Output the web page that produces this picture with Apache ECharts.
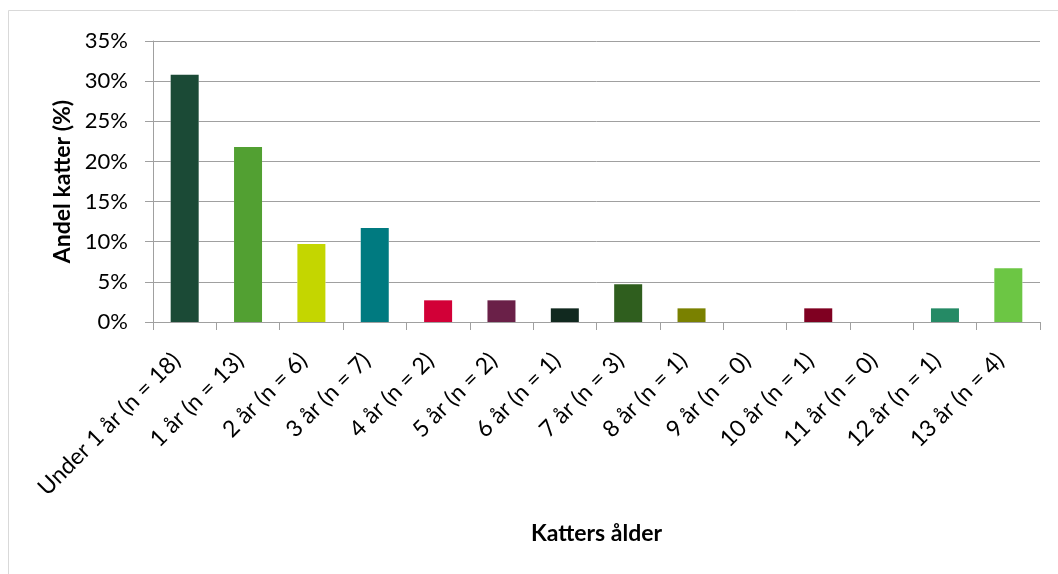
<!DOCTYPE html>
<html>
<head>
<meta charset="utf-8">
<script src="https://cdn.jsdelivr.net/npm/echarts@6/dist/echarts.min.js"></script>
<style>
html,body{margin:0;padding:0;background:#fff;}
#chart{width:1058px;height:574px;}
</style>
</head>
<body>
<div id="chart"></div>
<script>
const categories = ['Under 1 år (n = 18)','1 år (n = 13)','2 år (n = 6)','3 år (n = 7)','4 år (n = 2)','5 år (n = 2)','6 år (n = 1)','7 år (n = 3)','8 år (n = 1)','9 år (n = 0)','10 år (n = 1)','11 år (n = 0)','12 år (n = 1)','13 år (n = 4)'];
const values = [30.8, 21.8, 9.7, 11.7, 2.7, 2.7, 1.7, 4.7, 1.7, 0, 1.7, 0, 1.7, 6.7];
const colors = ['#1b4a36','#52a032','#c4d600','#007a80','#d20037','#6a2048','#11291f','#2f5e1e','#7a8100','#888888','#7f0021','#888888','#258a65','#6cc644'];
const yTicks = [0,5,10,15,20,25,30,35];

const FONT = 'Lato';
const chart = echarts.init(document.getElementById('chart'), null, {renderer:'canvas'});
chart.setOption({
  animation:false,
  backgroundColor:'#ffffff',
  graphic:[{type:'rect', shape:{x:8.5,y:10.5,width:1100,height:700}, style:{fill:'none', stroke:'#d9d9d9', lineWidth:1}, silent:true}],
  grid:{left:153, right:18, top:41, bottom:252, containLabel:false},
  xAxis:{
    type:'category', data:categories, z:3,
    name:'Katters ålder', nameLocation:'middle', nameGap:200,
    nameTextStyle:{fontFamily:FONT, fontSize:23, fontWeight:'bold', color:'#000'},
    axisLine:{show:true, lineStyle:{color:'#a0a0a0', width:1}},
    axisTick:{show:true, length:8, interval:0, lineStyle:{color:'#a0a0a0'}},
    axisLabel:{interval:0, rotate:45, margin:43, align:'right', verticalAlign:'bottom', fontFamily:FONT, fontSize:23, color:'#000'},
    splitLine:{show:false}
  },
  yAxis:{
    type:'value', min:yTicks[0], max:yTicks[yTicks.length-1], interval:5,
    name:'Andel katter (%)', nameLocation:'middle', nameGap:78, nameRotate:90,
    nameTextStyle:{fontFamily:FONT, fontSize:23, fontWeight:'bold', color:'#000'},
    axisLine:{show:true, lineStyle:{color:'#a0a0a0', width:1}},
    axisTick:{show:true, length:8, lineStyle:{color:'#a0a0a0'}},
    axisLabel:{formatter:'{value}%', margin:25, fontFamily:FONT, fontSize:22, color:'#000'},
    splitLine:{show:true, lineStyle:{color:'#a0a0a0', width:1}}
  },
  series:[{
    type:'bar', barWidth:28, silent:true, z:1,
    data: values,
    itemStyle:{color:'#ffffff', borderColor:'#ffffff', borderWidth:8}
  },{
    type:'bar', barWidth:28, barGap:'-100%', z:2,
    data: values.map((v,i)=>({value:v, itemStyle:{color:colors[i]}}))
  }]
});
</script>
</body>
</html>
